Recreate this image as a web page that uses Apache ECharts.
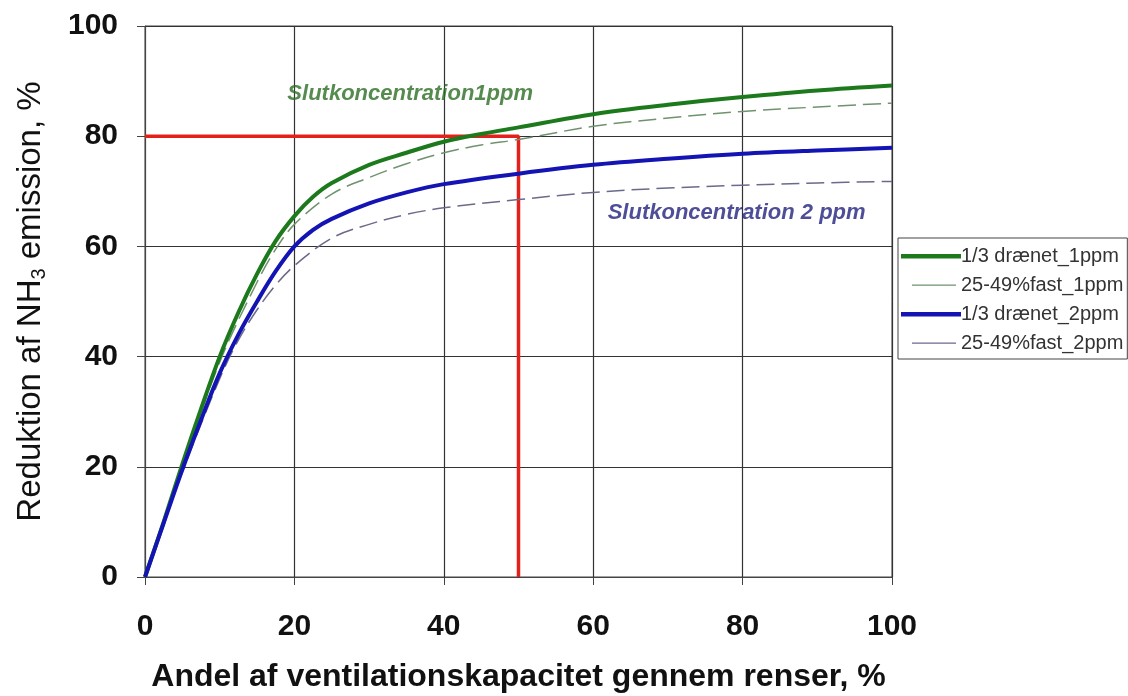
<!DOCTYPE html>
<html>
<head>
<meta charset="utf-8">
<script src="https://cdn.jsdelivr.net/npm/echarts@6/dist/echarts.min.js"></script>
<style>
  html, body { margin: 0; padding: 0; background: #fff; }
  #chart { width: 1128px; height: 696px; }
</style>
</head>
<body>
<div id="chart"></div>
<script>
// andel af ventilationskapacitet gennem renser (%)
const xDrain1 = [0, 2.5, 5, 7.5, 10, 12.5, 15, 17.5, 20, 22.5, 25, 30, 35, 40, 45, 50, 60, 70, 80, 90, 100];
const yDrain1 = [0, 10, 20.5, 30.5, 40, 48, 55, 61, 65.5, 69, 71.5, 74.8, 77, 79, 80.4, 81.6, 84, 85.7, 87.1, 88.3, 89.2];

const xFast1 = [0, 5, 10, 15, 17.5, 20, 25, 30, 35, 40, 45, 50, 60, 70, 80, 90, 100];
const yFast1 = [0, 20, 39, 53.5, 59.5, 64, 69.5, 72.5, 75, 77, 78.4, 79.4, 81.8, 83.3, 84.5, 85.3, 86];

const xDrain2 = [0, 2.5, 5, 7.5, 10, 12.5, 15, 17.5, 20, 22.5, 25, 30, 35, 40, 50, 60, 70, 80, 90, 100];
const yDrain2 = [0, 9.8, 19.5, 28.5, 37, 44, 50, 55.5, 60, 63, 65, 67.8, 69.8, 71.3, 73.2, 74.8, 75.9, 76.8, 77.4, 77.9];

const xFast2 = [0, 5, 10, 12.5, 15, 17.5, 20, 25, 30, 35, 40, 50, 60, 70, 80, 90, 100];
const yFast2 = [0, 19, 36, 43, 48.5, 53, 56.5, 61.5, 64, 65.8, 67, 68.5, 69.8, 70.6, 71.1, 71.5, 71.8];

// hjælpelinje: 80 % reduktion ved 50 % kapacitet
const targetReduction = 80;
const targetShare = 50;

const seriesNames = ['1/3 drænet_1ppm', '25-49%fast_1ppm', '1/3 drænet_2ppm', '25-49%fast_2ppm'];
const xTicks = [0, 20, 40, 60, 80, 100];
const yTicks = [0, 20, 40, 60, 80, 100];

// tekst i plottet: [x, y, tekst]
const note1 = [35.5, 87.7, 'Slutkoncentration1ppm'];
const note2 = [79.2, 66.0, 'Slutkoncentration 2 ppm'];

function pairs(xs, ys) {
    return xs.map((x, i) => [x, ys[i]]);
}

// legend-ikoner: streg uden markør (tyk / tynd)
const thickIcon = 'path://M0,0L0.01,0ZM0,5L60,5L60,9.5L0,9.5ZM0,14L0.01,14Z';
const thinIcon = 'path://M0,0L0.01,0ZM6,6.6L50,6.6L50,7.8L6,7.8ZM0,14L0.01,14Z';

const chart = echarts.init(document.getElementById('chart'));

const font = 'Liberation Sans, Arial';
const axisFont = { fontFamily: font, fontWeight: 'bold', fontSize: 30, color: '#111' };

const option = {
    animation: false,
    backgroundColor: '#fff',
    grid: {
        left: 145, top: 26, right: 236, bottom: 119,
        outerBoundsMode: 'none',
        show: true, borderColor: '#444', borderWidth: 1
    },
    legend: {
        data: [
            { name: seriesNames[0], icon: thickIcon },
            { name: seriesNames[1], icon: thinIcon },
            { name: seriesNames[2], icon: thickIcon },
            { name: seriesNames[3], icon: thinIcon }
        ],
        orient: 'vertical',
        left: 898, top: 238,
        itemWidth: 60, itemHeight: 14, itemGap: 9,
        padding: [8, 4, 6, 3],
        borderColor: '#444', borderWidth: 1,
        backgroundColor: '#fff',
        textStyle: { fontFamily: font, fontSize: 20, color: '#333', padding: [0, 0, 0, -5] }
    },
    xAxis: {
        type: 'value', min: 0, max: 100, interval: 20,
        name: 'Andel af ventilationskapacitet gennem renser, %',
        nameLocation: 'middle', nameGap: 84,
        nameTextStyle: { fontFamily: font, fontWeight: 'bold', fontSize: 32, color: '#111' },
        axisLine: { lineStyle: { color: '#444', width: 1 } },
        axisTick: { show: true, length: 8, lineStyle: { color: '#444' } },
        axisLabel: Object.assign({ margin: 35, formatter: v => xTicks.includes(v) ? v : '' }, axisFont),
        splitLine: { show: true, lineStyle: { color: '#333', width: 1.2 } }
    },
    yAxis: {
        type: 'value', min: 0, max: 100, interval: 20,
        name: 'Reduktion af NH{s|3} emission, %',
        nameLocation: 'middle', nameGap: 96, nameRotate: 90,
        nameTextStyle: {
            fontFamily: font, fontSize: 33, color: '#111',
            rich: { s: { fontFamily: font, fontSize: 20, color: '#111', padding: [17, 0, 0, 0] } }
        },
        axisLine: { show: true, lineStyle: { color: '#444', width: 1 } },
        axisTick: { show: true, length: 8, lineStyle: { color: '#444' } },
        axisLabel: Object.assign({ margin: 27, formatter: v => yTicks.includes(v) ? v : '' }, axisFont),
        splitLine: { show: true, lineStyle: { color: '#333', width: 1.2 } }
    },
    series: [
        {
            name: 'guide', type: 'line', silent: true, symbol: 'none', z: 1,
            data: [[0, targetReduction], [targetShare, targetReduction], [targetShare, 0]],
            lineStyle: { color: '#e3201b', width: 3.5 }
        },
        {
            name: seriesNames[0], type: 'line', smooth: 0.35, symbol: 'none', z: 5,
            data: pairs(xDrain1, yDrain1),
            color: '#1c7a1c',
            lineStyle: { color: '#1c7a1c', width: 4 }
        },
        {
            name: seriesNames[1], type: 'line', smooth: 0.35, symbol: 'none', z: 4,
            data: pairs(xFast1, yFast1),
            color: '#6f936f',
            lineStyle: { color: '#6f936f', width: 1.5, type: [18, 7] }
        },
        {
            name: seriesNames[2], type: 'line', smooth: 0.35, symbol: 'none', z: 5,
            data: pairs(xDrain2, yDrain2),
            color: '#1414b4',
            lineStyle: { color: '#1414b4', width: 4 }
        },
        {
            name: seriesNames[3], type: 'line', smooth: 0.35, symbol: 'none', z: 4,
            data: pairs(xFast2, yFast2),
            color: '#6a6a8a',
            lineStyle: { color: '#6a6a8a', width: 1.5, type: [18, 7] }
        },
        {
            name: 'notes', type: 'scatter', symbolSize: 0, silent: true, z: 6,
            data: [
                { value: [note1[0], note1[1]], label: { formatter: note1[2], color: '#2a6e22' } },
                { value: [note2[0], note2[1]], label: { formatter: note2[2], color: '#22227e' } }
            ],
            label: {
                show: true, position: 'inside',
                fontFamily: font, fontStyle: 'italic', fontWeight: 'bold', fontSize: 22
            }
        }
    ]
};

chart.setOption(option);
</script>
</body>
</html>
